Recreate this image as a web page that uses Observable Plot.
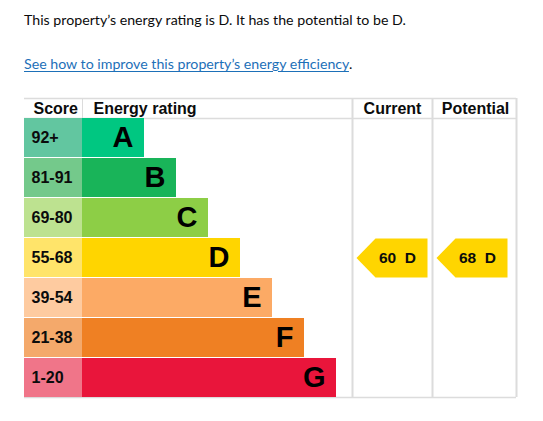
<!DOCTYPE html>
<html>
<head>
<meta charset="utf-8">
<script src="https://cdn.jsdelivr.net/npm/d3@7"></script>
<script src="https://cdn.jsdelivr.net/npm/@observablehq/plot@0.6"></script>
<style>
  html, body { margin: 0; padding: 0; background: #fff; }
  #intro { position: relative; width: 543px; height: 90px; font-family: Lato, "Noto Sans", sans-serif; color: #0b0c0c; }
  #intro .p1 { position: absolute; left: 24px; top: 10px; line-height: 20px; font-size: 14.2px; margin: 0; white-space: nowrap; }
  #intro .p2 { position: absolute; left: 24px; top: 54px; line-height: 20px; font-size: 14.2px; margin: 0; white-space: nowrap; }
  #intro a { color: #1d70b8; text-decoration: underline; text-underline-offset: 2px; }
  #chart svg { display: block; }
</style>
</head>
<body>
<div id="intro">
  <p class="p1">This property’s energy rating is D. It has the potential to be D.</p>
  <p class="p2"><a href="#">See how to improve this property’s energy efficiency</a>.</p>
</div>
<div id="chart"></div>
<script>
// ---- data ----
const ratings = ["A", "B", "C", "D", "E", "F", "G"];
const scoreRanges = ["92+", "81-91", "69-80", "55-68", "39-54", "21-38", "1-20"];
const barColors = ["#00c781", "#19b459", "#8dce46", "#ffd500", "#fcaa65", "#ef8023", "#e9153b"];
const scoreColors = ["#62c6a0", "#74c98b", "#bde290", "#ffe46a", "#fecba0", "#f4a96b", "#f07589"];
const headerLabels = ["Score", "Energy rating", "Current", "Potential"];
const currentScore = 60, currentRating = "D";
const potentialScore = 68, potentialRating = "D";

// ---- layout ----
const tableLeft = 24, scoreRight = 82, tableRight = 516;
const barBase = 62, barStep = 32;
const colCurrent = [352, 432], colPotential = [432, 516];
const rowFill = 0.975; // fraction of row height filled

const rows = ratings.map((r, i) => ({
  rating: r, range: scoreRanges[i], row: i,
  barEnd: scoreRight + barBase + barStep * i,
  barColor: barColors[i], scoreColor: scoreColors[i]
}));

const arrows = [
  {which: "current", score: currentScore, rating: currentRating, col: colCurrent},
  {which: "potential", score: potentialScore, rating: potentialRating, col: colPotential}
].map(a => ({...a, row: ratings.indexOf(a.rating), tip: a.col[0] + 4, end: a.col[0] + 75}));

const arrowPts = arrows.flatMap(a => [
  {which: a.which, x: a.tip, y: a.row + rowFill / 2},
  {which: a.which, x: a.tip + 19, y: a.row},
  {which: a.which, x: a.end, y: a.row},
  {which: a.which, x: a.end, y: a.row + rowFill},
  {which: a.which, x: a.tip + 19, y: a.row + rowFill},
  {which: a.which, x: a.tip, y: a.row + rowFill / 2}
]);

const grid = "#dcdcdc";

const chart = Plot.plot({
  width: 543,
  height: 331,
  margin: 0,
  x: {domain: [0, 543], range: [0, 543], axis: null},
  y: {domain: [-0.5, 6.975], range: [8, 307], axis: null},
  color: {type: "identity"},
  style: {fontFamily: "'Liberation Sans', Arial, sans-serif", background: "#fff"},
  marks: [
    Plot.ruleY([-0.5, 0, 6.975], {x1: () => tableLeft, x2: () => tableRight, stroke: grid, strokeWidth: 1.5}),
    Plot.ruleX([colCurrent[0], colPotential[0], tableRight], {y1: () => -0.5, y2: () => 6.975, stroke: grid, strokeWidth: 2}),
    Plot.ruleX([scoreRight], {y1: () => -0.5, y2: () => 0, stroke: grid, strokeWidth: 1}),
    Plot.rect(rows, {x1: () => tableLeft, x2: () => scoreRight, y1: "row", y2: d => d.row + rowFill, fill: "scoreColor"}),
    Plot.rect(rows, {x1: () => scoreRight, x2: "barEnd", y1: "row", y2: d => d.row + rowFill, fill: "barColor"}),
    Plot.text(rows, {x: () => tableLeft + 7, y: d => d.row + rowFill / 2, text: "range", textAnchor: "start", fontWeight: "bold", fontSize: 16, fill: "#0b0c0c"}),
    Plot.text(rows, {x: "barEnd", y: d => d.row + rowFill / 2, text: "rating", textAnchor: "end", dx: -11, fontWeight: "bold", fontSize: 29, fill: "#000"}),
    Plot.text(headerLabels.slice(0, 2), {x: [tableLeft + 9, scoreRight + 11], y: () => -0.25, text: d => d, textAnchor: "start", fontWeight: "bold", fontSize: 16, fill: "#0b0c0c"}),
    Plot.text(headerLabels.slice(2), {x: [(colCurrent[0] + colCurrent[1]) / 2, (colPotential[0] + colPotential[1]) / 2 + 1], y: () => -0.25, text: d => d, textAnchor: "middle", fontWeight: "bold", fontSize: 16, fill: "#0b0c0c"}),
    Plot.line(arrowPts, {x: "x", y: "y", z: "which", fill: () => barColors[3], stroke: null, curve: "linear"}),
    Plot.text(arrows, {x: d => d.tip + 41, y: d => d.row + rowFill / 2, text: d => `${d.score}\u00a0\u00a0${d.rating}`, textAnchor: "middle", fontWeight: "bold", fontSize: 15.5, fill: "#0b0c0c"})
  ]
});
document.getElementById("chart").appendChild(chart);
</script>
</body>
</html>
